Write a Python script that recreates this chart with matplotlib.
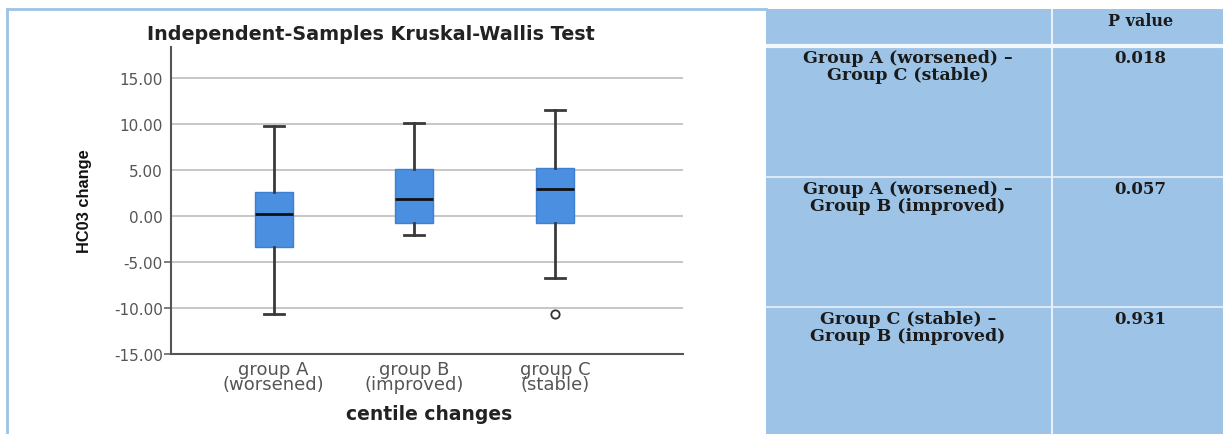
import numpy as np
import matplotlib
matplotlib.use('Agg')
import matplotlib.pyplot as plt
from matplotlib.lines import Line2D
from matplotlib.patches import Rectangle

# Box plot summary values
groups = ['group A\n(worsened)', 'group B\n(improved)', 'group C\n(stable)']
whislo = [-10.6, -2.1, -6.7]
q1 = [-3.4, -0.7, -0.8]
med = [0.2, 1.9, 3.0]
q3 = [2.6, 5.1, 5.2]
whishi = [9.8, 10.1, 11.6]
fliers = [[], [], [-10.7]]

yticks = [-15, -10, -5, 0, 5, 10, 15]

# Table to the right
row_labels = ['Group A (worsened) \u2013\nGroup C (stable)',
              'Group A (worsened) \u2013\nGroup B (improved)',
              'Group C (stable) \u2013\nGroup B (improved)']
p_values = ['0.018', '0.057', '0.931']

W, H = 1223, 435
fig = plt.figure(figsize=(W / 100, H / 100), dpi=100)
fig.patch.set_facecolor('white')

# main box plot axes
ax = fig.add_axes([171 / W, 1 - 355 / H, (683 - 171) / W, (355 - 48) / H])
stats = []
for i in range(len(groups)):
    stats.append(dict(whislo=whislo[i], q1=q1[i], med=med[i], q3=q3[i],
                      whishi=whishi[i], fliers=fliers[i]))
ax.bxp(stats, positions=[1, 2, 3], widths=0.27, patch_artist=True,
       boxprops=dict(facecolor='#4a8fe0', edgecolor='#3d7fd0', linewidth=1),
       medianprops=dict(color='#111111', linewidth=2),
       whiskerprops=dict(color='#3a3a3a', linewidth=2),
       capprops=dict(color='#3a3a3a', linewidth=2),
       capwidths=0.14,
       flierprops=dict(marker='o', markerfacecolor='white', markeredgecolor='#333333',
                       markersize=6, markeredgewidth=1.3))
ax.set_xlim(0.27, 3.91)
ax.set_ylim(-15, 18.4)
ax.set_yticks(yticks)
ax.set_yticklabels(['%.2f' % v for v in yticks], fontsize=11, color='#555555',
                   family='DejaVu Sans')
ax.set_xticks([1, 2, 3])
ax.set_xticklabels(groups, fontsize=13, color='#555555', family='DejaVu Sans',
                   linespacing=0.8)
ax.tick_params(axis='x', length=0, pad=4)
ax.tick_params(axis='y', length=5, width=1.2, color='#666666', pad=1)
# only the negative ticks show a mark in the original
for t, v in zip(ax.yaxis.get_major_ticks(), yticks):
    if v >= 0:
        t.tick1line.set_visible(False)
ax.yaxis.grid(True, color='#bdbdbd', linewidth=1.2)
ax.set_axisbelow(True)
for s in ['top', 'right']:
    ax.spines[s].set_visible(False)
for s in ['left', 'bottom']:
    ax.spines[s].set_color('#555555')
    ax.spines[s].set_linewidth(1.5)

fig.text(371 / W, 1 - 35 / H, 'Independent-Samples Kruskal-Wallis Test', ha='center',
         va='center', fontsize=13.8, fontweight='bold', family='DejaVu Sans',
         color='#222222')
fig.text(85 / W, 1 - 201 / H, 'HC03 change', rotation=90, ha='center', va='center',
         fontsize=11.8, fontweight='bold', family='Liberation Sans', color='#111111')
fig.text(429 / W, 1 - 415 / H, 'centile changes', ha='center', va='center',
         fontsize=13.5, fontweight='bold', family='DejaVu Sans', color='#222222')

# light blue frame around the chart image
fig.add_artist(Line2D([7 / W, 766 / W], [1 - 10 / H, 1 - 10 / H], color='#9dc3e6', lw=2))
fig.add_artist(Line2D([7 / W, 7 / W], [0, 1 - 10 / H], color='#9dc3e6', lw=2))

# table of P values
tx = fig.add_axes([766 / W, 0, 1 - 766 / W, 1 - 10 / H])
tx.set_xlim(766, W)
tx.set_ylim(H, 10)
tx.axis('off')
tx.add_patch(Rectangle((766, 10), W - 766, H - 10, facecolor='#9dc3e6', edgecolor='none'))
tx.plot([1052, 1052], [10, H], color='#e8f1fa', lw=1.5)
tx.plot([766, W], [47, 47], color='#f4f8fc', lw=3)
row_tops = [47, 178, 308]
for y in row_tops[1:]:
    tx.plot([766, W], [y, y], color='#e8f1fa', lw=1.2)
tx.text(1141, 21, 'P value', ha='center', va='center', fontsize=11.5, fontweight='bold',
        family='DejaVu Serif', color='#1a1a1a')
for i in range(len(row_labels)):
    tx.text(908, row_tops[i] + 3, row_labels[i], ha='center', va='top', fontsize=12.5,
            fontweight='bold', family='DejaVu Serif', color='#1a1a1a',
            linespacing=1.0)
    tx.text(1140, row_tops[i] + 3, p_values[i], ha='center', va='top', fontsize=12,
            fontweight='bold', family='DejaVu Serif', color='#1a1a1a')

fig.savefig('out.png', dpi=100)
